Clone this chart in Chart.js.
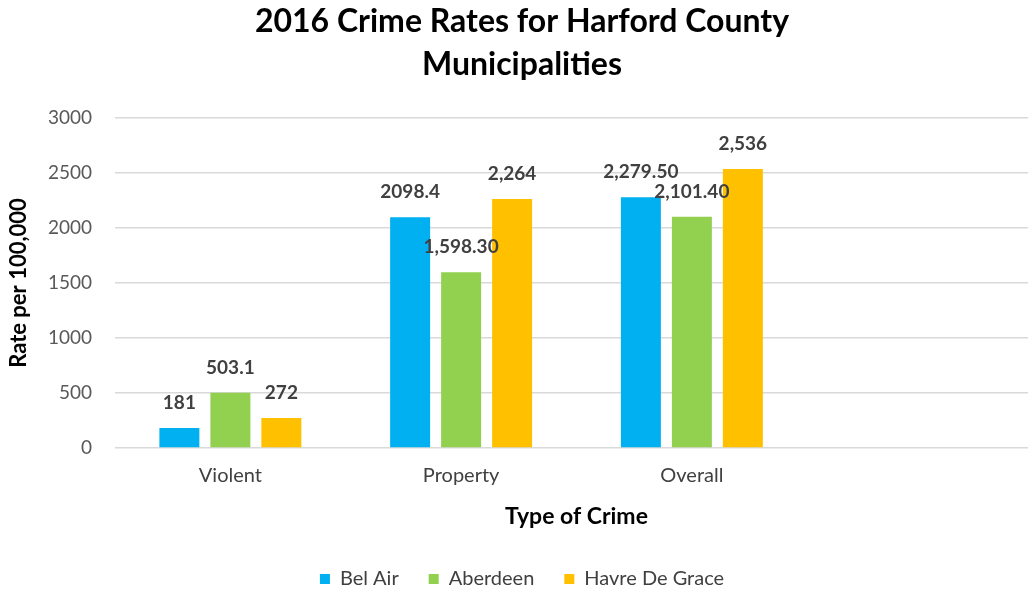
<!DOCTYPE html>
<html>
<head>
<meta charset="utf-8">
<script src="https://cdn.jsdelivr.net/npm/chart.js@4"></script>
<style>
  html, body { margin: 0; padding: 0; background: #fff; overflow: hidden; }
  #wrap { width: 1038px; height: 591px; }
</style>
</head>
<body>
<div id="wrap"><canvas id="crimeChart"></canvas></div>
<script>
const categories = ['Violent', 'Property', 'Overall', ''];
const belAir = [181, 2098.4, 2279.5, null];
const aberdeen = [503.1, 1598.3, 2101.4, null];
const havreDeGrace = [272, 2264, 2536, null];
const belAirLabels = ['181', '2098.4', '2,279.50', ''];
const aberdeenLabels = ['503.1', '1,598.30', '2,101.40', ''];
const havreLabels = ['272', '2,264', '2,536', ''];
const yTicks = [0, 500, 1000, 1500, 2000, 2500, 3000];

const FONT = 'Lato, "Open Sans", sans-serif';

// labels drawn above each bar
const barLabels = {
    id: 'barLabels',
    afterDatasetsDraw(chart) {
        const ctx = chart.ctx;
        ctx.save();
        ctx.font = 'bold 19px ' + FONT;
        ctx.fillStyle = '#404040';
        ctx.textAlign = 'center';
        ctx.textBaseline = 'alphabetic';
        chart.data.datasets.forEach((ds, i) => {
            chart.getDatasetMeta(i).data.forEach((bar, j) => {
                const txt = ds.valueLabels[j];
                if (!txt) return;
                ctx.fillText(txt, bar.x, bar.y - 19);
            });
        });
        ctx.restore();
    }
};

new Chart(
    document.getElementById('crimeChart'),
    {
        type: 'bar',
        data: {
            labels: categories,
            datasets: [
                { label: 'Bel Air', data: belAir, valueLabels: belAirLabels, backgroundColor: '#00B0F0' },
                { label: 'Aberdeen', data: aberdeen, valueLabels: aberdeenLabels, backgroundColor: '#92D050' },
                { label: 'Havre De Grace', data: havreDeGrace, valueLabels: havreLabels, backgroundColor: '#FFC000' }
            ]
        },
        options: {
            animation: false,
            responsive: true,
            maintainAspectRatio: false,
            categoryPercentage: 0.663,
            barPercentage: 0.784,
            layout: { padding: { left: 6, right: 0, top: 0, bottom: -8 } },
            plugins: {
                title: {
                    display: true,
                    text: ['2016 Crime Rates for Harford County', 'Municipalities'],
                    color: '#000',
                    font: { family: FONT, size: 32, weight: 'bold', lineHeight: 1.35 },
                    padding: { top: 0, bottom: 31.6 }
                },
                legend: {
                    position: 'bottom',
                    labels: {
                        color: '#404040',
                        boxWidth: 10,
                        boxHeight: 10,
                        padding: 30,
                        font: { family: FONT, size: 20 }
                    }
                },
                tooltip: { enabled: false }
            },
            scales: {
                x: {
                    afterFit: (s) => { s.height = 91; },
                    grid: { display: false },
                    border: { display: false },
                    ticks: { color: '#404040', font: { family: FONT, size: 20 }, padding: 8 },
                    title: {
                        display: true,
                        text: 'Type of Crime',
                        color: '#000',
                        font: { family: FONT, size: 23, weight: 'bold' },
                        padding: { top: 10, bottom: 9 }
                    }
                },
                y: {
                    min: 0,
                    max: 3000,
                    afterFit: (s) => { s.width = 109; },
                    afterBuildTicks: (axis) => { axis.ticks = yTicks.map(v => ({ value: v })); },
                    grid: { color: '#D9D9D9', lineWidth: 1.5, drawTicks: false },
                    border: { display: false },
                    ticks: {
                        color: '#595959',
                        font: { family: FONT, size: 19 },
                        padding: 23,
                        callback: (v) => String(v)
                    },
                    title: {
                        display: true,
                        text: 'Rate per 100,000',
                        color: '#000',
                        font: { family: FONT, size: 22, weight: 'bold' },
                        padding: { top: 0, bottom: 0 }
                    }
                }
            }
        },
        plugins: [barLabels]
    }
);
</script>
</body>
</html>
